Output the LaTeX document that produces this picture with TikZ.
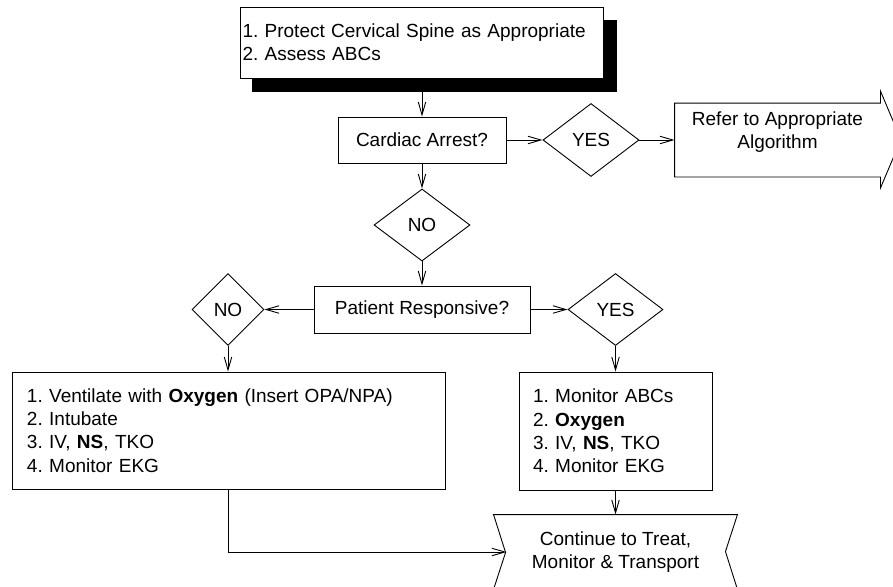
\documentclass[tikz,border=0pt]{standalone}
\usepackage{fontspec}
\setmainfont{Liberation Sans}
\usetikzlibrary{shapes.geometric,arrows.meta}
\frenchspacing
\begin{document}
\begin{tikzpicture}[x=1pt,y=-1pt,line width=0.9pt,
  every node/.style={font=\fontsize{19}{23.3}\selectfont},
  box/.style={draw,rectangle,fill=white,inner sep=0pt},
  dia/.style={draw,diamond,inner sep=0pt},
  arr/.style={-{Straight Barb[length=13pt,width=7.5pt]}}]
\useasboundingbox (0,0) rectangle (893,586);
% top box with shadow
\node[fill=black,inner sep=0pt,minimum width=365pt,minimum height=72pt] (shadow) at (434.5,56) {};
\node[box,minimum width=363pt,minimum height=71pt,text width=358pt,align=left] (top) at (421.5,42.5)
  {1. Protect Cervical Spine as Appropriate\\2. Assess ABCs};
% cardiac arrest
\node[box,minimum width=168pt,minimum height=46pt] (card) at (422,140) {Cardiac Arrest?};
\node[dia,minimum width=96pt,minimum height=73pt] (yes1) at (591,140) {YES};
\node[inner sep=0pt,minimum width=205pt,minimum height=73pt,align=center] (refer) at (777.5,140)
  {Refer to Appropriate\\Algorithm\\[-4pt]};
\draw (refer.south west) -- (refer.north west) -- (refer.north east) -- ++(0,-12)
  -- ++(20.5,48.5) -- ++(-20.5,48.5) -- (refer.south east) -- cycle;
\node[dia,minimum width=96pt,minimum height=72pt] (no1) at (422,225) {NO};
\node[box,minimum width=216pt,minimum height=47pt] (pat) at (422,309.5) {Patient Responsive?};
\node[dia,minimum width=72pt,minimum height=72pt] (no2) at (228,309.5) {NO};
\node[dia,minimum width=95pt,minimum height=72pt] (yes2) at (615.5,309.5) {YES};
\node[box,minimum width=433pt,minimum height=117pt,text width=403pt,inner xsep=15pt,align=left] (lbox) at (228.5,430.5)
  {1. Ventilate with \textbf{Oxygen} (Insert OPA/NPA)\\2. Intubate\\3. IV, \textbf{NS}, TKO\\4. Monitor EKG};
\node[box,minimum width=193pt,minimum height=118pt,text width=165pt,inner xsep=14pt,align=left] (rbox) at (615.5,431)
  {1. Monitor ABCs\\2. \textbf{Oxygen}\\3. IV, \textbf{NS}, TKO\\4. Monitor EKG};
\node[inner sep=0pt,minimum width=243pt,minimum height=74pt,align=center] (cont) at (615.5,552)
  {Continue to Treat,\\Monitor \& Transport};
\draw (cont.north west) -- (cont.north east) -- ++(-12,37) -- (cont.south east)
  -- (cont.south west) -- ++(12,-37) -- cycle;
\coordinate (contL) at (506.5,552);
% connectors
\draw[arr] (card.north |- shadow.south) -- (card.north);
\draw[arr] (card.east) -- (yes1.west);
\draw[arr] (yes1.east) -- (refer.west);
\draw[arr] (card.south) -- (no1.north);
\draw[arr] (no1.south) -- (pat.north);
\draw[arr] (pat.west) -- (no2.east);
\draw[arr] (pat.east) -- (yes2.west);
\draw[arr] (no2.south) -- (no2.south |- lbox.north);
\draw[arr] (yes2.south) -- (rbox.north);
\draw[arr] (rbox.south) -- (cont.north);
\draw[arr] (no2.south |- lbox.south) |- (contL);
\end{tikzpicture}
\end{document}
